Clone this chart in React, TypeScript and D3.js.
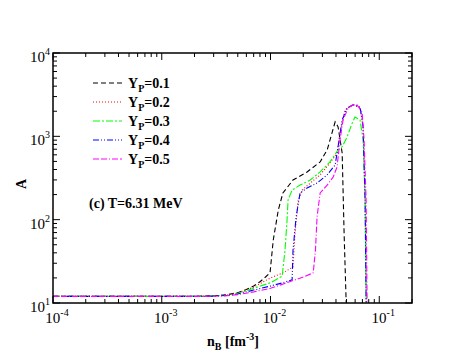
import React from "react";
import * as d3 from "d3";

const xTicksMajor = [1e-4, 1e-3, 1e-2, 1e-1];
const xTickExps = ["-4", "-3", "-2", "-1"];
const yTicksMajor = [10, 100, 1000, 10000];
const yTickExps = ["1", "2", "3", "4"];

const yp1N = [1e-4, 0.002, 0.003, 0.004, 0.005, 0.006, 0.007, 0.008, 0.009, 0.0099, 0.0106, 0.0118, 0.013, 0.0161, 0.0217, 0.0286, 0.0332, 0.0393, 0.0418, 0.0456, 0.0475, 0.0496, 0.051];
const yp1A = [12, 12, 12.2, 12.6, 13.3, 14.5, 16, 18, 20.5, 23, 57, 131, 209, 299, 374, 493, 688, 1490, 1300, 631, 69, 10.5, 5];

const yp2N = [1e-4, 0.002, 0.003, 0.004, 0.005, 0.007, 0.01, 0.013, 0.0161, 0.0168, 0.018, 0.0196, 0.0232, 0.0286, 0.0352, 0.0409, 0.0436, 0.0484, 0.0574, 0.0666, 0.071, 0.0741, 0.0757, 0.077];
const yp2A = [12, 12, 12.2, 12.5, 13.2, 15.5, 20, 23, 27, 69, 172, 227, 275, 345, 479, 631, 1100, 2070, 2390, 2200, 1300, 172, 11, 5];

const yp3N = [1e-4, 0.002, 0.003, 0.004, 0.005, 0.007, 0.01, 0.0128, 0.0136, 0.0142, 0.0145, 0.0158, 0.0187, 0.0232, 0.0286, 0.0352, 0.0418, 0.0456, 0.0507, 0.0562, 0.0598, 0.0666, 0.071, 0.0741, 0.0757, 0.077];
const yp3A = [12, 12, 12.1, 12.4, 13, 15, 17.5, 21, 43, 99, 172, 227, 260, 299, 374, 493, 688, 750, 985, 1430, 1700, 1570, 906, 172, 13, 5];

const yp4N = [1e-4, 0.002, 0.003, 0.004, 0.005, 0.007, 0.01, 0.013, 0.0158, 0.0161, 0.0172, 0.0187, 0.0217, 0.0268, 0.0332, 0.0393, 0.0418, 0.0456, 0.0507, 0.0574, 0.0666, 0.071, 0.0741, 0.0757, 0.077];
const yp4A = [12, 12, 12.1, 12.3, 12.8, 14.3, 16, 17.5, 19, 43, 108, 209, 240, 275, 345, 453, 750, 1580, 2200, 2390, 2260, 1300, 172, 11, 5];

const yp5N = [1e-4, 0.002, 0.003, 0.004, 0.005, 0.007, 0.01, 0.015, 0.02, 0.0247, 0.0259, 0.0268, 0.0286, 0.0332, 0.0377, 0.0409, 0.0436, 0.0465, 0.0519, 0.0574, 0.0624, 0.0695, 0.0725, 0.0757, 0.0773, 0.079];
const yp5A = [12, 12, 12.05, 12.2, 12.6, 13.6, 15, 18, 20.5, 23, 43, 108, 209, 260, 325, 428, 906, 1580, 2200, 2390, 2390, 1960, 906, 172, 11, 5];

const seriesLabels = ["0.1", "0.2", "0.3", "0.4", "0.5"];
const seriesColors = ["#000000", "#ff0000", "#00ff00", "#0000ff", "#ff00ff"];
const seriesDash = ["5,3", "1,2", "7,2,2,2", "6,2,1,2,1,2", "6,2,6,2,1,2"];

const W = 463;
const H = 358;
const L = 53, R = 412, T = 53, B = 303;

export default function App() {
  const x = d3.scaleLog().domain([1e-4, 0.2]).range([L, R]);
  const y = d3.scaleLog().domain([10, 10000]).range([B, T]);
  const series = [
    [yp1N, yp1A], [yp2N, yp2A], [yp3N, yp3A], [yp4N, yp4A], [yp5N, yp5A],
  ];
  const line = d3.line<[number, number]>().x(d => x(d[0])).y(d => y(d[1]));

  const xMinor: number[] = [];
  for (let e = -4; e <= -1; e++) for (let k = 2; k <= 9; k++) { const v = k * Math.pow(10, e); if (v <= 0.2) xMinor.push(v); }
  const yMinor: number[] = [];
  for (let e = 1; e <= 3; e++) for (let k = 2; k <= 9; k++) yMinor.push(k * Math.pow(10, e));

  const font = "'Liberation Serif', 'Times New Roman', serif";
  const maj = 7, mn = 4;

  return (
    <svg width={W} height={H} style={{ position: "absolute", left: 0, top: 0, background: "#fff" }} fontFamily={font}>
      <defs>
        <clipPath id="clip"><rect x={L} y={T} width={R - L} height={B - T} /></clipPath>
      </defs>
      <g clipPath="url(#clip)">
        {series.map((s, i) => {
          const pts = s[0].map((n, j) => [n, s[1][j]] as [number, number]);
          return <path key={i} d={line(pts) || ""} fill="none" stroke={seriesColors[i]} strokeWidth={1.1} strokeDasharray={seriesDash[i]} />;
        })}
      </g>
      <rect x={L} y={T} width={R - L} height={B - T} fill="none" stroke="#000" strokeWidth={1.5} />
      {xTicksMajor.map((v, i) => (
        <g key={"xm" + i}>
          <line x1={x(v)} x2={x(v)} y1={B} y2={B - maj} stroke="#000" />
          <line x1={x(v)} x2={x(v)} y1={T} y2={T + maj} stroke="#000" />
          <text x={x(v) + 4} y={323} textAnchor="middle" fontSize={15}>10<tspan dy={-7} fontSize={10}>{xTickExps[i]}</tspan></text>
        </g>
      ))}
      {xMinor.map((v, i) => (
        <g key={"xn" + i}>
          <line x1={x(v)} x2={x(v)} y1={B} y2={B - mn} stroke="#000" />
          <line x1={x(v)} x2={x(v)} y1={T} y2={T + mn} stroke="#000" />
        </g>
      ))}
      {yTicksMajor.map((v, i) => (
        <g key={"ym" + i}>
          <line x1={L} x2={L + maj} y1={y(v)} y2={y(v)} stroke="#000" />
          <line x1={R} x2={R - maj} y1={y(v)} y2={y(v)} stroke="#000" />
          <text x={50} y={y(v) + 9} textAnchor="end" fontSize={15}>10<tspan dy={-7} fontSize={10}>{yTickExps[i]}</tspan></text>
        </g>
      ))}
      {yMinor.map((v, i) => (
        <g key={"yn" + i}>
          <line x1={L} x2={L + mn} y1={y(v)} y2={y(v)} stroke="#000" />
          <line x1={R} x2={R - mn} y1={y(v)} y2={y(v)} stroke="#000" />
        </g>
      ))}
      {seriesLabels.map((lab, i) => {
        const yy = 83 + i * 19;
        return (
          <g key={"lg" + i}>
            <line x1={93} x2={122} y1={yy} y2={yy} stroke={seriesColors[i]} strokeWidth={1.1} strokeDasharray={seriesDash[i]} />
            <text x={128} y={yy + 5} fontSize={14} fontWeight="bold">Y<tspan dy={4} fontSize={10}>P</tspan><tspan dy={-4}>={lab}</tspan></text>
          </g>
        );
      })}
      <text x={89} y={208} fontSize={14} fontWeight="bold">(c) T=6.31 MeV</text>
      <text transform="translate(26,184) rotate(-90)" fontSize={14} fontWeight="bold" textAnchor="middle">A</text>
      <text x={233} y={346} fontSize={14} fontWeight="bold" textAnchor="middle">n<tspan dy={4} fontSize={10}>B</tspan><tspan dy={-4}> [fm</tspan><tspan dy={-6} fontSize={10}>-3</tspan><tspan dy={6}>]</tspan></text>
    </svg>
  );
}
